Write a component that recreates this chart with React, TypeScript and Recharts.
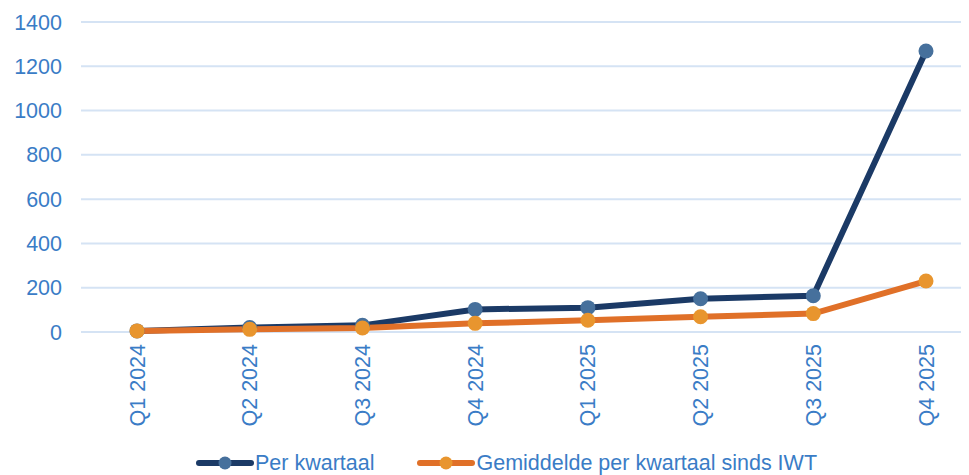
import React from 'react';
import { LineChart, Line, XAxis, YAxis, CartesianGrid, Legend } from 'recharts';

const categories = ['Q1 2024', 'Q2 2024', 'Q3 2024', 'Q4 2024', 'Q1 2025', 'Q2 2025', 'Q3 2025', 'Q4 2025'];
const perKwartaal = [5, 20, 30, 102, 110, 150, 164, 1269];
const gemiddelde = [5, 12, 18, 39, 53, 69, 83, 230];
const yTicks = [0, 200, 400, 600, 800, 1000, 1200, 1400];

const data = categories.map((c, i) => ({ cat: c, per: perKwartaal[i], gem: gemiddelde[i] }));

const TEXT = '#3a7cc6';
const NAVY = '#1b3a66';
const NAVY_DOT = '#46709c';
const ORANGE = '#e07028';
const ORANGE_DOT = '#e8952e';
const FONT = '"Liberation Sans", Arial, sans-serif';
const FS = 21.5;

const XTick = (props: any) => {
  const { x, y, payload } = props;
  const yy = y + 4;
  return (
    <text x={x} y={yy} transform={`rotate(-90 ${x} ${yy})`} textAnchor="end" dy="0.35em" fill={TEXT} fontSize={FS} fontFamily={FONT}>
      {payload.value}
    </text>
  );
};

const LegendContent = () => {
  const item = (line: string, dot: string, label: string, ml: number) => (
    <div style={{ display: 'flex', alignItems: 'center', marginLeft: ml }}>
      <svg width={58} height={16}>
        <line x1={3} y1={8} x2={55} y2={8} stroke={line} strokeWidth={6} strokeLinecap="round" />
        <circle cx={29} cy={8} r={6.5} fill={dot} />
      </svg>
      <span style={{ color: TEXT, fontSize: FS, fontFamily: FONT, marginLeft: 1 }}>{label}</span>
    </div>
  );
  return (
    <div style={{ display: 'flex', justifyContent: 'center', alignItems: 'center', height: 24, paddingLeft: 36 }}>
      {item(NAVY, NAVY_DOT, 'Per kwartaal', 0)}
      {item(ORANGE, ORANGE_DOT, 'Gemiddelde per kwartaal sinds IWT', 43)}
    </div>
  );
};

export default function App() {
  return (
    <div style={{ width: 961, height: 467 }}>
      <LineChart width={961} height={467} data={data} margin={{ top: 14, right: 0, bottom: 0, left: 0 }}>
        <CartesianGrid vertical={false} stroke="#d5e3f4" strokeWidth={2} />
        <XAxis
          dataKey="cat"
          scale="point"
          padding={{ left: 56, right: 43 }}
          axisLine={false}
          tickLine={false}
          height={119}
          tick={<XTick />}
          interval={0}
        />
        <YAxis
          domain={[0, 1400]}
          ticks={yTicks}
          axisLine={false}
          tickLine={false}
          width={73}
          tickMargin={13}
          tick={{ fill: TEXT, fontSize: FS, fontFamily: FONT }}
        />
        <Legend verticalAlign="bottom" content={<LegendContent />} />
        <Line
          dataKey="per"
          name="Per kwartaal"
          stroke={NAVY}
          strokeWidth={6}
          dot={{ r: 7.5, fill: NAVY_DOT, stroke: 'none' }}
          isAnimationActive={false}
        />
        <Line
          dataKey="gem"
          name="Gemiddelde per kwartaal sinds IWT"
          stroke={ORANGE}
          strokeWidth={6}
          dot={{ r: 7.5, fill: ORANGE_DOT, stroke: 'none' }}
          isAnimationActive={false}
        />
      </LineChart>
    </div>
  );
}
